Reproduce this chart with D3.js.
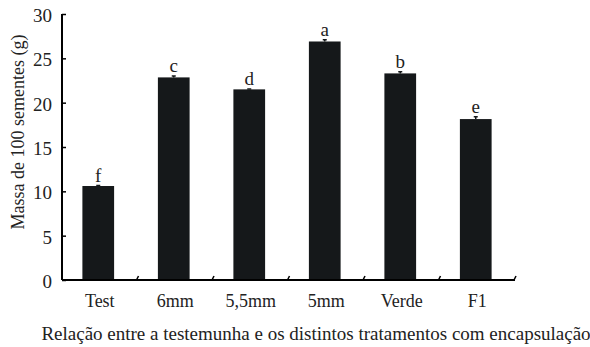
<!DOCTYPE html>
<html>
<head>
<meta charset="utf-8">
<script src="https://cdn.jsdelivr.net/npm/d3@7"></script>
<style>
  body { margin: 0; background: #fff; }
  svg { display: block; font-family: "Liberation Serif", "Times New Roman", serif; }
</style>
</head>
<body>
<div id="chart"></div>
<script>
// Data
const categories = ['Test', '6mm', '5,5mm', '5mm', 'Verde', 'F1'];
const values = [10.6, 22.85, 21.5, 26.9, 23.3, 18.15];
const errors = [0.05, 0.15, 0.05, 0.2, 0.2, 0.25];
const letters = ['f', 'c', 'd', 'a', 'b', 'e'];
const yTicks = [0, 5, 10, 15, 20, 25, 30];

const width = 590, height = 347;
const margin = { left: 62, right: 75, top: 14, bottom: 67 };

const svg = d3.select('#chart')
    .append('svg')
    .attr('width', width)
    .attr('height', height);

// Scales
const x = d3.scaleBand()
    .domain(categories)
    .range([margin.left, width - margin.right])
    .paddingInner(0.58)
    .paddingOuter(0.29);

const y = d3.scaleLinear()
    .domain([0, 30])
    .range([height - margin.bottom, margin.top]);

// Bars
svg.append('g')
    .selectAll('rect')
    .data(values)
    .join('rect')
    .attr('x', (d, i) => x(categories[i]) - 1.5)
    .attr('y', d => y(d))
    .attr('width', x.bandwidth())
    .attr('height', d => y(0) - y(d))
    .attr('fill', '#15181a');

// Small error marks on top of the bars
svg.append('g')
    .selectAll('path')
    .data(values)
    .join('path')
    .attr('d', (d, i) => {
        const cx = x(categories[i]) - 1.5 + x.bandwidth() / 2;
        const top = y(d + errors[i]);
        return `M${cx - 2},${top}H${cx + 2}M${cx},${top}V${y(d)}`;
    })
    .attr('stroke', '#15181a')
    .attr('stroke-width', 1.5)
    .attr('fill', 'none');

// Significance letters
svg.append('g')
    .selectAll('text')
    .data(values)
    .join('text')
    .attr('x', (d, i) => x(categories[i]) - 1.5 + x.bandwidth() / 2)
    .attr('y', (d, i) => y(d + errors[i]) - 4)
    .attr('text-anchor', 'middle')
    .attr('font-size', 19)
    .attr('fill', '#222')
    .text((d, i) => letters[i]);

// Y axis
const yAxis = d3.axisLeft(y)
    .tickValues(yTicks)
    .tickSize(-4)
    .tickPadding(10);

const yg = svg.append('g')
    .attr('transform', `translate(${margin.left},0)`)
    .call(yAxis);
yg.select('.domain').attr('stroke-width', 2).attr('d', `M0,${y(30)}V${y(0)}`);
yg.selectAll('.tick line').attr('stroke-width', 1.5);
yg.selectAll('.tick text')
    .attr('font-size', 19)
    .attr('dy', '0.4em')
    .attr('font-family', '"Liberation Serif", serif')
    .attr('fill', '#222');

// X axis
const xAxis = d3.axisBottom(x).tickSize(0).tickPadding(14);
const xg = svg.append('g')
    .attr('transform', `translate(0,${y(0)})`)
    .call(xAxis);
xg.select('.domain').attr('stroke-width', 2)
    .attr('d', `M${margin.left},0H${width - margin.right}`);
xg.selectAll('.tick text')
    .attr('font-size', 18)
    .attr('font-family', '"Liberation Serif", serif')
    .attr('fill', '#222');

// Category separator ticks
const seps = d3.range(1, categories.length + 1).map(i => margin.left + i * x.step());
xg.append('g')
    .selectAll('line')
    .data(seps)
    .join('line')
    .attr('x1', d => d - 1)
    .attr('x2', d => d + 1)
    .attr('y1', 0)
    .attr('y2', -4)
    .attr('stroke', '#000')
    .attr('stroke-width', 1.5);

// Axis titles
svg.append('text')
    .attr('transform', `translate(24,132) rotate(-90)`)
    .attr('text-anchor', 'middle')
    .attr('font-size', 18)
    .attr('fill', '#222')
    .text('Massa de 100 sementes (g)');

svg.append('text')
    .attr('x', 316)
    .attr('y', 340)
    .attr('text-anchor', 'middle')
    .attr('font-size', 19)
    .attr('fill', '#222')
    .text('Relação entre a testemunha e os distintos tratamentos com encapsulação');
</script>
</body>
</html>
